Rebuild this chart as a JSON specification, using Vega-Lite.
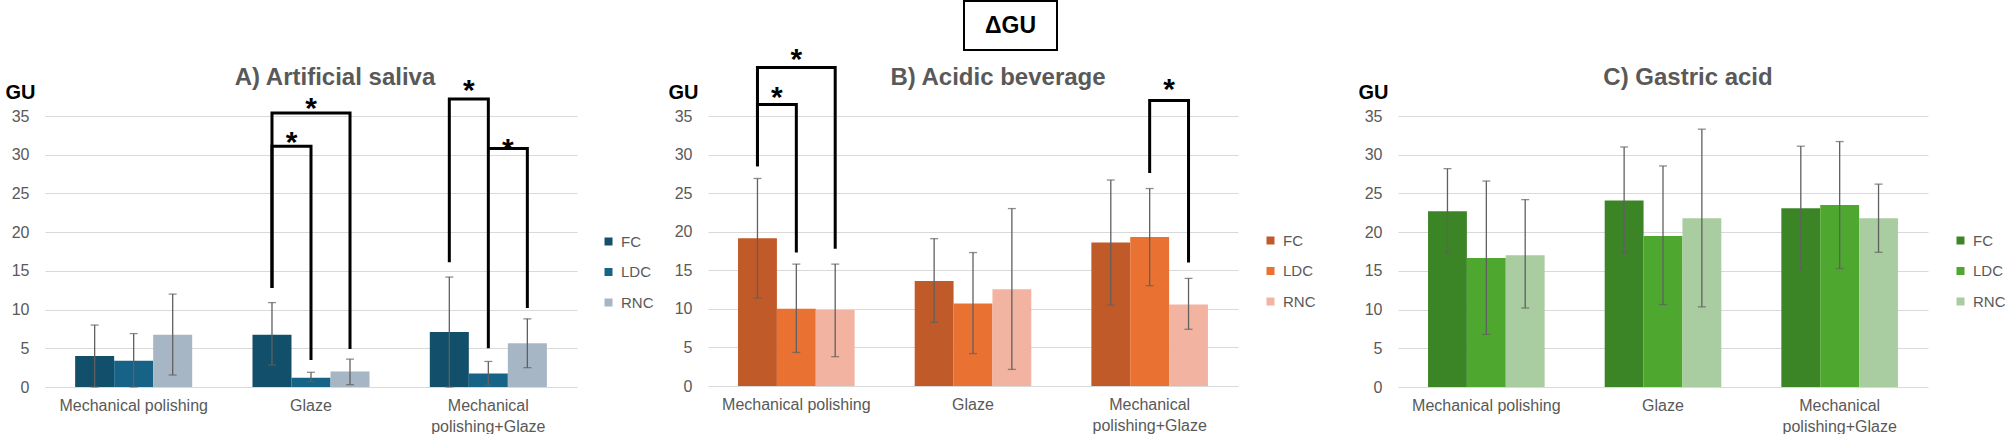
{
  "$schema": "https://vega.github.io/schema/vega-lite/v6.json",
  "padding": {"left": 5, "top": 0, "right": 0, "bottom": 0},
  "config": {
    "font": "Liberation Sans",
    "view": {"stroke": null},
    "axisX": {"domain": false, "ticks": false, "grid": false, "labelFontSize": 16, "labelColor": "#595959", "labelPadding": 10, "labelLineHeight": 21, "labelAngle": 0},
    "axisY": {"domain": false, "ticks": false, "grid": true, "tickCount": 8, "gridColor": "#d9d9d9", "gridWidth": 1.2, "labelFontSize": 16, "labelColor": "#595959", "labelPadding": 16, "titleAngle": 0, "titleAlign": "left", "titleBaseline": "middle", "titleX": -40, "titleY": -24, "titleFontSize": 20, "titleFontWeight": "bold", "titleColor": "#000000"},
    "legend": {"orient": "none", "title": null, "symbolType": "square", "symbolSize": 64, "symbolStrokeWidth": 0, "labelFontSize": 15, "labelColor": "#595959", "rowPadding": 14.5, "labelOffset": 5, "padding": 0}
  },
  "datasets": {
    "header": [{"label": "ΔGU"}],
    "spacer": [{"label": ""}],
    "titles": [
      {"panel": "A", "title": "A) Artificial saliva"},
      {"panel": "B", "title": "B) Acidic beverage"},
      {"panel": "C", "title": "C) Gastric acid"}
    ],
    "bars": [
      {"panel": "A", "method": "Mechanical polishing", "group": "FC", "value": 4.0, "lo": 0.0, "hi": 8.0},
      {"panel": "A", "method": "Mechanical polishing", "group": "LDC", "value": 3.4, "lo": 0.0, "hi": 6.9},
      {"panel": "A", "method": "Mechanical polishing", "group": "RNC", "value": 6.75, "lo": 1.55, "hi": 12.0},
      {"panel": "A", "method": "Glaze", "group": "FC", "value": 6.75, "lo": 2.85, "hi": 10.9},
      {"panel": "A", "method": "Glaze", "group": "LDC", "value": 1.2, "lo": 0.7, "hi": 1.9},
      {"panel": "A", "method": "Glaze", "group": "RNC", "value": 2.0, "lo": 0.3, "hi": 3.6},
      {"panel": "A", "method": "Mechanical polishing+Glaze", "group": "FC", "value": 7.1, "lo": 0.0, "hi": 14.2},
      {"panel": "A", "method": "Mechanical polishing+Glaze", "group": "LDC", "value": 1.75, "lo": 0.2, "hi": 3.3},
      {"panel": "A", "method": "Mechanical polishing+Glaze", "group": "RNC", "value": 5.65, "lo": 2.5, "hi": 8.8},
      {"panel": "B", "method": "Mechanical polishing", "group": "FC", "value": 19.15, "lo": 11.4, "hi": 26.9},
      {"panel": "B", "method": "Mechanical polishing", "group": "LDC", "value": 10.0, "lo": 4.35, "hi": 15.8},
      {"panel": "B", "method": "Mechanical polishing", "group": "RNC", "value": 9.85, "lo": 3.8, "hi": 15.8},
      {"panel": "B", "method": "Glaze", "group": "FC", "value": 13.6, "lo": 8.25, "hi": 19.1},
      {"panel": "B", "method": "Glaze", "group": "LDC", "value": 10.7, "lo": 4.2, "hi": 17.3},
      {"panel": "B", "method": "Glaze", "group": "RNC", "value": 12.55, "lo": 2.15, "hi": 23.0},
      {"panel": "B", "method": "Mechanical polishing+Glaze", "group": "FC", "value": 18.6, "lo": 10.5, "hi": 26.7},
      {"panel": "B", "method": "Mechanical polishing+Glaze", "group": "LDC", "value": 19.3, "lo": 13.0, "hi": 25.6},
      {"panel": "B", "method": "Mechanical polishing+Glaze", "group": "RNC", "value": 10.55, "lo": 7.35, "hi": 13.95},
      {"panel": "C", "method": "Mechanical polishing", "group": "FC", "value": 22.7, "lo": 17.3, "hi": 28.2},
      {"panel": "C", "method": "Mechanical polishing", "group": "LDC", "value": 16.65, "lo": 6.8, "hi": 26.6},
      {"panel": "C", "method": "Mechanical polishing", "group": "RNC", "value": 17.0, "lo": 10.2, "hi": 24.2},
      {"panel": "C", "method": "Glaze", "group": "FC", "value": 24.1, "lo": 17.4, "hi": 31.0},
      {"panel": "C", "method": "Glaze", "group": "LDC", "value": 19.5, "lo": 10.65, "hi": 28.55},
      {"panel": "C", "method": "Glaze", "group": "RNC", "value": 21.8, "lo": 10.35, "hi": 33.3},
      {"panel": "C", "method": "Mechanical polishing+Glaze", "group": "FC", "value": 23.1, "lo": 15.2, "hi": 31.1},
      {"panel": "C", "method": "Mechanical polishing+Glaze", "group": "LDC", "value": 23.5, "lo": 15.3, "hi": 31.7},
      {"panel": "C", "method": "Mechanical polishing+Glaze", "group": "RNC", "value": 21.8, "lo": 17.4, "hi": 26.2}
    ],
    "brackets": [
      {"panel": "A", "id": "a1", "ord": 1, "method": "Glaze", "group": "FC", "y": 12.8},
      {"panel": "A", "id": "a1", "ord": 2, "method": "Glaze", "group": "FC", "y": 31.1},
      {"panel": "A", "id": "a1", "ord": 3, "method": "Glaze", "group": "LDC", "y": 31.1},
      {"panel": "A", "id": "a1", "ord": 4, "method": "Glaze", "group": "LDC", "y": 3.5},
      {"panel": "A", "id": "a2", "ord": 1, "method": "Glaze", "group": "FC", "y": 12.8},
      {"panel": "A", "id": "a2", "ord": 2, "method": "Glaze", "group": "FC", "y": 35.4},
      {"panel": "A", "id": "a2", "ord": 3, "method": "Glaze", "group": "RNC", "y": 35.4},
      {"panel": "A", "id": "a2", "ord": 4, "method": "Glaze", "group": "RNC", "y": 4.9},
      {"panel": "A", "id": "a3", "ord": 1, "method": "Mechanical polishing+Glaze", "group": "FC", "y": 16.1},
      {"panel": "A", "id": "a3", "ord": 2, "method": "Mechanical polishing+Glaze", "group": "FC", "y": 37.2},
      {"panel": "A", "id": "a3", "ord": 3, "method": "Mechanical polishing+Glaze", "group": "LDC", "y": 37.2},
      {"panel": "A", "id": "a3", "ord": 4, "method": "Mechanical polishing+Glaze", "group": "LDC", "y": 5.0},
      {"panel": "A", "id": "a4", "ord": 1, "method": "Mechanical polishing+Glaze", "group": "LDC", "y": 30.8},
      {"panel": "A", "id": "a4", "ord": 2, "method": "Mechanical polishing+Glaze", "group": "RNC", "y": 30.8},
      {"panel": "A", "id": "a4", "ord": 3, "method": "Mechanical polishing+Glaze", "group": "RNC", "y": 10.2},
      {"panel": "B", "id": "b1", "ord": 1, "method": "Mechanical polishing", "group": "FC", "y": 28.5},
      {"panel": "B", "id": "b1", "ord": 2, "method": "Mechanical polishing", "group": "FC", "y": 36.5},
      {"panel": "B", "id": "b1", "ord": 3, "method": "Mechanical polishing", "group": "LDC", "y": 36.5},
      {"panel": "B", "id": "b1", "ord": 4, "method": "Mechanical polishing", "group": "LDC", "y": 17.3},
      {"panel": "B", "id": "b2", "ord": 1, "method": "Mechanical polishing", "group": "FC", "y": 28.5},
      {"panel": "B", "id": "b2", "ord": 2, "method": "Mechanical polishing", "group": "FC", "y": 41.3},
      {"panel": "B", "id": "b2", "ord": 3, "method": "Mechanical polishing", "group": "RNC", "y": 41.3},
      {"panel": "B", "id": "b2", "ord": 4, "method": "Mechanical polishing", "group": "RNC", "y": 17.8},
      {"panel": "B", "id": "b3", "ord": 1, "method": "Mechanical polishing+Glaze", "group": "LDC", "y": 27.6},
      {"panel": "B", "id": "b3", "ord": 2, "method": "Mechanical polishing+Glaze", "group": "LDC", "y": 37.0},
      {"panel": "B", "id": "b3", "ord": 3, "method": "Mechanical polishing+Glaze", "group": "RNC", "y": 37.0},
      {"panel": "B", "id": "b3", "ord": 4, "method": "Mechanical polishing+Glaze", "group": "RNC", "y": 16.0}
    ],
    "stars": [
      {"panel": "A", "method": "Glaze", "group": "FC", "pos": "between", "y": 32.6, "sig": "*"},
      {"panel": "A", "method": "Glaze", "group": "LDC", "pos": "center", "y": 36.9, "sig": "*"},
      {"panel": "A", "method": "Mechanical polishing+Glaze", "group": "FC", "pos": "between", "y": 39.2, "sig": "*"},
      {"panel": "A", "method": "Mechanical polishing+Glaze", "group": "LDC", "pos": "between", "y": 31.7, "sig": "*"},
      {"panel": "B", "method": "Mechanical polishing", "group": "FC", "pos": "between", "y": 38.4, "sig": "*"},
      {"panel": "B", "method": "Mechanical polishing", "group": "LDC", "pos": "center", "y": 43.3, "sig": "*"},
      {"panel": "B", "method": "Mechanical polishing+Glaze", "group": "LDC", "pos": "between", "y": 39.4, "sig": "*"}
    ]
  },
  "bounds": "flush",
  "center": false,
  "spacing": 115,
  "resolve": {"scale": {"color": "independent", "xOffset": "independent", "x": "independent", "y": "independent"}, "legend": {"color": "independent"}},
  "vconcat": [
    {
      "bounds": "flush",
      "spacing": 0,
      "hconcat": [
        {
          "width": 919,
          "height": 49,
          "data": {"name": "spacer"},
          "mark": {"type": "text", "opacity": 0},
          "encoding": {"text": {"field": "label", "type": "nominal"}}
        },
        {
          "width": 93,
          "height": 49,
          "view": {"stroke": "#000000", "strokeWidth": 2},
          "data": {"name": "header"},
          "mark": {"type": "text", "fontSize": 23, "fontWeight": "bold", "color": "#000000", "align": "center", "baseline": "middle"},
          "encoding": {"text": {"field": "label", "type": "nominal"}}
        }
      ]
    },
    {
      "bounds": "flush",
      "spacing": 131,
      "resolve": {"scale": {"color": "independent", "xOffset": "independent", "x": "independent", "y": "independent"}, "legend": {"color": "independent"}},
      "hconcat": [
        {
          "width": 532,
          "height": 271,
          "layer": [
            {
              "data": {"name": "bars"},
              "transform": [{"filter": "datum.panel == 'A'"}],
              "mark": {"type": "bar"},
              "encoding": {
                "x": {"field": "method", "type": "nominal", "sort": null, "title": null, "scale": {"domain": ["Mechanical polishing", "Glaze", "Mechanical polishing+Glaze"], "paddingInner": 0.34, "paddingOuter": 0.17}, "axis": {"labelExpr": "datum.label == 'Mechanical polishing+Glaze' ? ['Mechanical', 'polishing+Glaze'] : datum.label"}},
                "xOffset": {"field": "group", "type": "nominal", "scale": {"domain": ["FC", "LDC", "RNC"], "paddingInner": 0, "paddingOuter": 0}},
                "y": {"field": "value", "type": "quantitative", "title": "GU", "scale": {"domain": [0, 35], "nice": false}},
                "color": {"field": "group", "type": "nominal", "scale": {"domain": ["FC", "LDC", "RNC"], "range": ["#124f6b", "#176387", "#a6b6c4"]}, "legend": {"legendX": 556, "legendY": 118, "labelFontSize": 15}}
              }
            },
            {
              "data": {"name": "bars"},
              "transform": [{"filter": "datum.panel == 'A'"}],
              "mark": {"type": "rule", "color": "#606060", "strokeWidth": 1.3},
              "encoding": {
                "x": {"field": "method", "type": "nominal", "sort": null, "title": null},
                "xOffset": {"field": "group", "type": "nominal"},
                "y": {"field": "lo", "type": "quantitative", "title": "GU"},
                "y2": {"field": "hi"}
              }
            },
            {
              "data": {"name": "bars"},
              "transform": [{"filter": "datum.panel == 'A'"}],
              "mark": {"type": "tick", "color": "#606060", "size": 8, "thickness": 1.3},
              "encoding": {
                "x": {"field": "method", "type": "nominal", "sort": null, "title": null},
                "xOffset": {"field": "group", "type": "nominal"},
                "y": {"field": "hi", "type": "quantitative", "title": "GU"}
              }
            },
            {
              "data": {"name": "bars"},
              "transform": [{"filter": "datum.panel == 'A'"}],
              "mark": {"type": "tick", "color": "#606060", "size": 8, "thickness": 1.3},
              "encoding": {
                "x": {"field": "method", "type": "nominal", "sort": null, "title": null},
                "xOffset": {"field": "group", "type": "nominal"},
                "y": {"field": "lo", "type": "quantitative", "title": "GU"}
              }
            },
            {
              "data": {"name": "brackets"},
              "transform": [{"filter": "datum.panel == 'A'"}],
              "mark": {"type": "line", "color": "#000000", "strokeWidth": 3, "strokeJoin": "miter", "strokeCap": "butt"},
              "encoding": {
                "x": {"field": "method", "type": "nominal", "sort": null, "title": null},
                "xOffset": {"field": "group", "type": "nominal"},
                "y": {"field": "y", "type": "quantitative", "title": "GU"},
                "detail": {"field": "id", "type": "nominal"},
                "order": {"field": "ord", "type": "quantitative"}
              }
            },
            {
              "data": {"name": "stars"},
              "transform": [{"filter": "datum.panel == 'A' && datum.pos == 'between'"}],
              "mark": {"type": "text", "fontSize": 30, "fontWeight": "bold", "color": "#000000", "align": "center", "baseline": "alphabetic", "dx": 19.5, "dy": 17},
              "encoding": {
                "x": {"field": "method", "type": "nominal", "sort": null, "title": null},
                "xOffset": {"field": "group", "type": "nominal"},
                "y": {"field": "y", "type": "quantitative", "title": "GU"},
                "text": {"field": "sig", "type": "nominal"}
              }
            },
            {
              "data": {"name": "stars"},
              "transform": [{"filter": "datum.panel == 'A' && datum.pos == 'center'"}],
              "mark": {"type": "text", "fontSize": 30, "fontWeight": "bold", "color": "#000000", "align": "center", "baseline": "alphabetic", "dy": 17},
              "encoding": {
                "x": {"field": "method", "type": "nominal", "sort": null, "title": null},
                "xOffset": {"field": "group", "type": "nominal"},
                "y": {"field": "y", "type": "quantitative", "title": "GU"},
                "text": {"field": "sig", "type": "nominal"}
              }
            },
            {
              "data": {"name": "titles"},
              "transform": [{"filter": "datum.panel == 'A'"}],
              "mark": {"type": "text", "fontSize": 24, "fontWeight": "bold", "color": "#595959", "align": "center", "baseline": "alphabetic", "dx": 24},
              "encoding": {
                "y": {"datum": 39, "title": "GU"},
                "text": {"field": "title", "type": "nominal"}
              }
            }
          ]
        },
        {
          "bounds": "flush",
          "spacing": 160,
          "resolve": {"scale": {"color": "independent", "xOffset": "independent", "x": "independent", "y": "independent"}, "legend": {"color": "independent"}},
          "hconcat": [
            {
              "width": 530,
              "height": 270,
              "layer": [
                {
                  "data": {"name": "bars"},
                  "transform": [{"filter": "datum.panel == 'B'"}],
                  "mark": {"type": "bar"},
                  "encoding": {
                    "x": {"field": "method", "type": "nominal", "sort": null, "title": null, "scale": {"domain": ["Mechanical polishing", "Glaze", "Mechanical polishing+Glaze"], "paddingInner": 0.34, "paddingOuter": 0.17}, "axis": {"labelExpr": "datum.label == 'Mechanical polishing+Glaze' ? ['Mechanical', 'polishing+Glaze'] : datum.label"}},
                    "xOffset": {"field": "group", "type": "nominal", "scale": {"domain": ["FC", "LDC", "RNC"], "paddingInner": 0, "paddingOuter": 0}},
                    "y": {"field": "value", "type": "quantitative", "title": "GU", "scale": {"domain": [0, 35], "nice": false}},
                    "color": {"field": "group", "type": "nominal", "scale": {"domain": ["FC", "LDC", "RNC"], "range": ["#c05a29", "#e97132", "#f2b4a1"]}, "legend": {"legendX": 555, "legendY": 117, "labelFontSize": 15}}
                  }
                },
                {
                  "data": {"name": "bars"},
                  "transform": [{"filter": "datum.panel == 'B'"}],
                  "mark": {"type": "rule", "color": "#606060", "strokeWidth": 1.3},
                  "encoding": {
                    "x": {"field": "method", "type": "nominal", "sort": null, "title": null},
                    "xOffset": {"field": "group", "type": "nominal"},
                    "y": {"field": "lo", "type": "quantitative", "title": "GU"},
                    "y2": {"field": "hi"}
                  }
                },
                {
                  "data": {"name": "bars"},
                  "transform": [{"filter": "datum.panel == 'B'"}],
                  "mark": {"type": "tick", "color": "#606060", "size": 8, "thickness": 1.3},
                  "encoding": {
                    "x": {"field": "method", "type": "nominal", "sort": null, "title": null},
                    "xOffset": {"field": "group", "type": "nominal"},
                    "y": {"field": "hi", "type": "quantitative", "title": "GU"}
                  }
                },
                {
                  "data": {"name": "bars"},
                  "transform": [{"filter": "datum.panel == 'B'"}],
                  "mark": {"type": "tick", "color": "#606060", "size": 8, "thickness": 1.3},
                  "encoding": {
                    "x": {"field": "method", "type": "nominal", "sort": null, "title": null},
                    "xOffset": {"field": "group", "type": "nominal"},
                    "y": {"field": "lo", "type": "quantitative", "title": "GU"}
                  }
                },
                {
                  "data": {"name": "brackets"},
                  "transform": [{"filter": "datum.panel == 'B'"}],
                  "mark": {"type": "line", "color": "#000000", "strokeWidth": 3, "strokeJoin": "miter", "strokeCap": "butt"},
                  "encoding": {
                    "x": {"field": "method", "type": "nominal", "sort": null, "title": null},
                    "xOffset": {"field": "group", "type": "nominal"},
                    "y": {"field": "y", "type": "quantitative", "title": "GU"},
                    "detail": {"field": "id", "type": "nominal"},
                    "order": {"field": "ord", "type": "quantitative"}
                  }
                },
                {
                  "data": {"name": "stars"},
                  "transform": [{"filter": "datum.panel == 'B' && datum.pos == 'between'"}],
                  "mark": {"type": "text", "fontSize": 30, "fontWeight": "bold", "color": "#000000", "align": "center", "baseline": "alphabetic", "dx": 19.5, "dy": 17},
                  "encoding": {
                    "x": {"field": "method", "type": "nominal", "sort": null, "title": null},
                    "xOffset": {"field": "group", "type": "nominal"},
                    "y": {"field": "y", "type": "quantitative", "title": "GU"},
                    "text": {"field": "sig", "type": "nominal"}
                  }
                },
                {
                  "data": {"name": "stars"},
                  "transform": [{"filter": "datum.panel == 'B' && datum.pos == 'center'"}],
                  "mark": {"type": "text", "fontSize": 30, "fontWeight": "bold", "color": "#000000", "align": "center", "baseline": "alphabetic", "dy": 17},
                  "encoding": {
                    "x": {"field": "method", "type": "nominal", "sort": null, "title": null},
                    "xOffset": {"field": "group", "type": "nominal"},
                    "y": {"field": "y", "type": "quantitative", "title": "GU"},
                    "text": {"field": "sig", "type": "nominal"}
                  }
                },
                {
                  "data": {"name": "titles"},
                  "transform": [{"filter": "datum.panel == 'B'"}],
                  "mark": {"type": "text", "fontSize": 24, "fontWeight": "bold", "color": "#595959", "align": "center", "baseline": "alphabetic", "dx": 25},
                  "encoding": {
                    "y": {"datum": 39, "title": "GU"},
                    "text": {"field": "title", "type": "nominal"}
                  }
                }
              ]
            },
            {
              "width": 530,
              "height": 271,
              "layer": [
                {
                  "data": {"name": "bars"},
                  "transform": [{"filter": "datum.panel == 'C'"}],
                  "mark": {"type": "bar"},
                  "encoding": {
                    "x": {"field": "method", "type": "nominal", "sort": null, "title": null, "scale": {"domain": ["Mechanical polishing", "Glaze", "Mechanical polishing+Glaze"], "paddingInner": 0.34, "paddingOuter": 0.17}, "axis": {"labelExpr": "datum.label == 'Mechanical polishing+Glaze' ? ['Mechanical', 'polishing+Glaze'] : datum.label"}},
                    "xOffset": {"field": "group", "type": "nominal", "scale": {"domain": ["FC", "LDC", "RNC"], "paddingInner": 0, "paddingOuter": 0}},
                    "y": {"field": "value", "type": "quantitative", "title": "GU", "scale": {"domain": [0, 35], "nice": false}},
                    "color": {"field": "group", "type": "nominal", "scale": {"domain": ["FC", "LDC", "RNC"], "range": ["#3c8526", "#4ea72e", "#a9cca0"]}, "legend": {"legendX": 555, "legendY": 117, "labelFontSize": 15}}
                  }
                },
                {
                  "data": {"name": "bars"},
                  "transform": [{"filter": "datum.panel == 'C'"}],
                  "mark": {"type": "rule", "color": "#606060", "strokeWidth": 1.3},
                  "encoding": {
                    "x": {"field": "method", "type": "nominal", "sort": null, "title": null},
                    "xOffset": {"field": "group", "type": "nominal"},
                    "y": {"field": "lo", "type": "quantitative", "title": "GU"},
                    "y2": {"field": "hi"}
                  }
                },
                {
                  "data": {"name": "bars"},
                  "transform": [{"filter": "datum.panel == 'C'"}],
                  "mark": {"type": "tick", "color": "#606060", "size": 8, "thickness": 1.3},
                  "encoding": {
                    "x": {"field": "method", "type": "nominal", "sort": null, "title": null},
                    "xOffset": {"field": "group", "type": "nominal"},
                    "y": {"field": "hi", "type": "quantitative", "title": "GU"}
                  }
                },
                {
                  "data": {"name": "bars"},
                  "transform": [{"filter": "datum.panel == 'C'"}],
                  "mark": {"type": "tick", "color": "#606060", "size": 8, "thickness": 1.3},
                  "encoding": {
                    "x": {"field": "method", "type": "nominal", "sort": null, "title": null},
                    "xOffset": {"field": "group", "type": "nominal"},
                    "y": {"field": "lo", "type": "quantitative", "title": "GU"}
                  }
                },
                {
                  "data": {"name": "titles"},
                  "transform": [{"filter": "datum.panel == 'C'"}],
                  "mark": {"type": "text", "fontSize": 24, "fontWeight": "bold", "color": "#595959", "align": "center", "baseline": "alphabetic", "dx": 25},
                  "encoding": {
                    "y": {"datum": 39, "title": "GU"},
                    "text": {"field": "title", "type": "nominal"}
                  }
                }
              ]
            }
          ]
        }
      ]
    }
  ]
}
